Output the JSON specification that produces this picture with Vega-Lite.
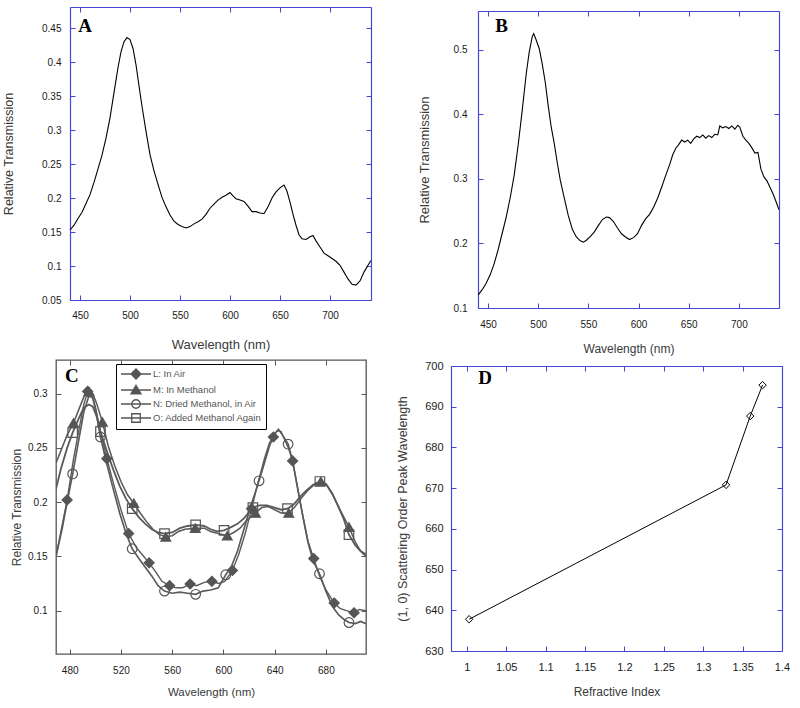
{
  "$schema": "https://vega.github.io/schema/vega-lite/v6.json",
  "padding": {"left": 2, "top": 6, "right": 0, "bottom": 0},
  "background": "white",
  "spacing": 4,
  "datasets": {
    "a": [
      {"w":440,"t":0.153},{"w":444,"t":0.160},{"w":448,"t":0.170},{"w":452,"t":0.179},{"w":456,"t":0.192},{"w":460,"t":0.205},{"w":464,"t":0.223},{"w":468,"t":0.243},{"w":472,"t":0.263},{"w":476,"t":0.288},{"w":480,"t":0.318},{"w":484,"t":0.355},{"w":488,"t":0.392},{"w":491,"t":0.415},{"w":494,"t":0.430},{"w":497,"t":0.436},{"w":500,"t":0.433},{"w":503,"t":0.420},{"w":506,"t":0.396},{"w":509,"t":0.365},{"w":512,"t":0.335},{"w":516,"t":0.298},{"w":520,"t":0.264},{"w":524,"t":0.240},{"w":528,"t":0.220},{"w":532,"t":0.201},{"w":536,"t":0.187},{"w":540,"t":0.175},{"w":544,"t":0.166},{"w":548,"t":0.161},{"w":552,"t":0.158},{"w":556,"t":0.156},{"w":560,"t":0.158},{"w":564,"t":0.162},{"w":568,"t":0.165},{"w":572,"t":0.169},{"w":576,"t":0.176},{"w":580,"t":0.185},{"w":584,"t":0.191},{"w":588,"t":0.197},{"w":592,"t":0.201},{"w":596,"t":0.204},{"w":600,"t":0.208},{"w":603,"t":0.203},{"w":606,"t":0.199},{"w":610,"t":0.197},{"w":614,"t":0.195},{"w":618,"t":0.188},{"w":622,"t":0.180},{"w":626,"t":0.180},{"w":630,"t":0.178},{"w":634,"t":0.177},{"w":638,"t":0.187},{"w":642,"t":0.200},{"w":646,"t":0.209},{"w":650,"t":0.215},{"w":654,"t":0.219},{"w":657,"t":0.210},{"w":660,"t":0.194},{"w":663,"t":0.176},{"w":666,"t":0.160},{"w":669,"t":0.146},{"w":672,"t":0.140},{"w":676,"t":0.139},{"w":680,"t":0.143},{"w":683,"t":0.145},{"w":686,"t":0.137},{"w":690,"t":0.128},{"w":694,"t":0.119},{"w":698,"t":0.115},{"w":702,"t":0.111},{"w":706,"t":0.107},{"w":710,"t":0.101},{"w":714,"t":0.091},{"w":718,"t":0.081},{"w":722,"t":0.073},{"w":726,"t":0.072},{"w":730,"t":0.078},{"w":734,"t":0.091},{"w":738,"t":0.101},{"w":741,"t":0.108}
    ],
    "b": [
      {"w":440,"t":0.120},{"w":444,"t":0.128},{"w":448,"t":0.138},{"w":452,"t":0.151},{"w":456,"t":0.168},{"w":460,"t":0.190},{"w":464,"t":0.215},{"w":468,"t":0.240},{"w":472,"t":0.270},{"w":476,"t":0.305},{"w":480,"t":0.352},{"w":484,"t":0.405},{"w":488,"t":0.462},{"w":491,"t":0.496},{"w":494,"t":0.520},{"w":495.5,"t":0.525},{"w":498,"t":0.515},{"w":501,"t":0.502},{"w":504,"t":0.478},{"w":507,"t":0.450},{"w":510,"t":0.413},{"w":513,"t":0.380},{"w":516,"t":0.355},{"w":519,"t":0.325},{"w":522,"t":0.298},{"w":526,"t":0.270},{"w":530,"t":0.243},{"w":534,"t":0.222},{"w":538,"t":0.210},{"w":542,"t":0.204},{"w":545,"t":0.202},{"w":548,"t":0.205},{"w":552,"t":0.211},{"w":556,"t":0.218},{"w":560,"t":0.228},{"w":564,"t":0.237},{"w":568,"t":0.241},{"w":571,"t":0.240},{"w":575,"t":0.234},{"w":579,"t":0.224},{"w":583,"t":0.215},{"w":587,"t":0.210},{"w":591,"t":0.206},{"w":595,"t":0.209},{"w":599,"t":0.215},{"w":603,"t":0.228},{"w":607,"t":0.238},{"w":611,"t":0.245},{"w":615,"t":0.256},{"w":619,"t":0.270},{"w":623,"t":0.287},{"w":627,"t":0.305},{"w":631,"t":0.322},{"w":634,"t":0.337},{"w":637,"t":0.347},{"w":640,"t":0.353},{"w":643,"t":0.360},{"w":646,"t":0.357},{"w":649,"t":0.360},{"w":652,"t":0.355},{"w":655,"t":0.362},{"w":658,"t":0.366},{"w":661,"t":0.364},{"w":664,"t":0.368},{"w":667,"t":0.363},{"w":670,"t":0.367},{"w":673,"t":0.364},{"w":676,"t":0.369},{"w":679,"t":0.368},{"w":681,"t":0.382},{"w":684,"t":0.379},{"w":687,"t":0.381},{"w":690,"t":0.378},{"w":693,"t":0.382},{"w":696,"t":0.377},{"w":699,"t":0.383},{"w":701,"t":0.380},{"w":704,"t":0.366},{"w":707,"t":0.360},{"w":710,"t":0.355},{"w":713,"t":0.348},{"w":716,"t":0.340},{"w":719,"t":0.341},{"w":722,"t":0.315},{"w":725,"t":0.303},{"w":728,"t":0.297},{"w":731,"t":0.287},{"w":734,"t":0.277},{"w":737,"t":0.265},{"w":740,"t":0.252}
    ],
    "c": [
      {"s":"L: In Air","w":469.3,"t":0.150,"mk":0},{"s":"L: In Air","w":473,"t":0.172,"mk":0},{"s":"L: In Air","w":478,"t":0.202,"mk":1},{"s":"L: In Air","w":483,"t":0.240,"mk":0},{"s":"L: In Air","w":488,"t":0.272,"mk":0},{"s":"L: In Air","w":491,"t":0.290,"mk":0},{"s":"L: In Air","w":494,"t":0.302,"mk":1},{"s":"L: In Air","w":497,"t":0.300,"mk":0},{"s":"L: In Air","w":500,"t":0.288,"mk":0},{"s":"L: In Air","w":504,"t":0.265,"mk":0},{"s":"L: In Air","w":509,"t":0.240,"mk":1},{"s":"L: In Air","w":514,"t":0.218,"mk":0},{"s":"L: In Air","w":520,"t":0.193,"mk":0},{"s":"L: In Air","w":526,"t":0.171,"mk":1},{"s":"L: In Air","w":532,"t":0.158,"mk":0},{"s":"L: In Air","w":537,"t":0.151,"mk":0},{"s":"L: In Air","w":542,"t":0.144,"mk":1},{"s":"L: In Air","w":547,"t":0.136,"mk":0},{"s":"L: In Air","w":552,"t":0.127,"mk":0},{"s":"L: In Air","w":558,"t":0.123,"mk":1},{"s":"L: In Air","w":563,"t":0.121,"mk":0},{"s":"L: In Air","w":568,"t":0.121,"mk":0},{"s":"L: In Air","w":574,"t":0.1245,"mk":1},{"s":"L: In Air","w":579,"t":0.123,"mk":0},{"s":"L: In Air","w":585,"t":0.126,"mk":0},{"s":"L: In Air","w":591,"t":0.127,"mk":1},{"s":"L: In Air","w":596,"t":0.125,"mk":0},{"s":"L: In Air","w":601,"t":0.127,"mk":0},{"s":"L: In Air","w":607,"t":0.137,"mk":1},{"s":"L: In Air","w":612,"t":0.152,"mk":0},{"s":"L: In Air","w":617,"t":0.171,"mk":0},{"s":"L: In Air","w":622,"t":0.194,"mk":1},{"s":"L: In Air","w":627,"t":0.218,"mk":0},{"s":"L: In Air","w":632,"t":0.240,"mk":0},{"s":"L: In Air","w":636,"t":0.255,"mk":0},{"s":"L: In Air","w":639,"t":0.260,"mk":1},{"s":"L: In Air","w":642,"t":0.266,"mk":0},{"s":"L: In Air","w":645,"t":0.265,"mk":0},{"s":"L: In Air","w":648,"t":0.257,"mk":0},{"s":"L: In Air","w":651,"t":0.249,"mk":0},{"s":"L: In Air","w":654,"t":0.238,"mk":1},{"s":"L: In Air","w":658,"t":0.213,"mk":0},{"s":"L: In Air","w":662,"t":0.187,"mk":0},{"s":"L: In Air","w":666,"t":0.164,"mk":0},{"s":"L: In Air","w":670.5,"t":0.148,"mk":1},{"s":"L: In Air","w":675,"t":0.132,"mk":0},{"s":"L: In Air","w":680,"t":0.119,"mk":0},{"s":"L: In Air","w":686.5,"t":0.107,"mk":1},{"s":"L: In Air","w":691,"t":0.102,"mk":0},{"s":"L: In Air","w":696,"t":0.100,"mk":0},{"s":"L: In Air","w":702,"t":0.098,"mk":1},{"s":"L: In Air","w":706,"t":0.101,"mk":0},{"s":"L: In Air","w":711.3,"t":0.100,"mk":0},
      {"s":"M: In Methanol","w":469.3,"t":0.236,"mk":0},{"s":"M: In Methanol","w":474,"t":0.250,"mk":0},{"s":"M: In Methanol","w":478,"t":0.262,"mk":0},{"s":"M: In Methanol","w":483,"t":0.273,"mk":1},{"s":"M: In Methanol","w":488,"t":0.288,"mk":0},{"s":"M: In Methanol","w":492,"t":0.300,"mk":0},{"s":"M: In Methanol","w":495,"t":0.302,"mk":1},{"s":"M: In Methanol","w":498,"t":0.300,"mk":0},{"s":"M: In Methanol","w":501,"t":0.291,"mk":0},{"s":"M: In Methanol","w":505.5,"t":0.274,"mk":1},{"s":"M: In Methanol","w":510,"t":0.252,"mk":0},{"s":"M: In Methanol","w":515,"t":0.234,"mk":0},{"s":"M: In Methanol","w":520,"t":0.219,"mk":0},{"s":"M: In Methanol","w":525,"t":0.207,"mk":0},{"s":"M: In Methanol","w":530,"t":0.199,"mk":1},{"s":"M: In Methanol","w":535,"t":0.190,"mk":0},{"s":"M: In Methanol","w":540,"t":0.182,"mk":0},{"s":"M: In Methanol","w":545,"t":0.175,"mk":0},{"s":"M: In Methanol","w":550,"t":0.170,"mk":0},{"s":"M: In Methanol","w":555,"t":0.168,"mk":1},{"s":"M: In Methanol","w":560,"t":0.169,"mk":0},{"s":"M: In Methanol","w":565,"t":0.173,"mk":0},{"s":"M: In Methanol","w":570,"t":0.175,"mk":0},{"s":"M: In Methanol","w":578,"t":0.176,"mk":1},{"s":"M: In Methanol","w":585,"t":0.176,"mk":0},{"s":"M: In Methanol","w":590,"t":0.173,"mk":0},{"s":"M: In Methanol","w":596,"t":0.171,"mk":0},{"s":"M: In Methanol","w":603,"t":0.169,"mk":1},{"s":"M: In Methanol","w":608,"t":0.172,"mk":0},{"s":"M: In Methanol","w":613,"t":0.176,"mk":0},{"s":"M: In Methanol","w":618,"t":0.183,"mk":0},{"s":"M: In Methanol","w":625,"t":0.190,"mk":1},{"s":"M: In Methanol","w":630,"t":0.195,"mk":0},{"s":"M: In Methanol","w":635,"t":0.196,"mk":0},{"s":"M: In Methanol","w":640,"t":0.193,"mk":0},{"s":"M: In Methanol","w":645,"t":0.190,"mk":0},{"s":"M: In Methanol","w":651,"t":0.190,"mk":1},{"s":"M: In Methanol","w":656,"t":0.196,"mk":0},{"s":"M: In Methanol","w":661,"t":0.204,"mk":0},{"s":"M: In Methanol","w":666,"t":0.211,"mk":0},{"s":"M: In Methanol","w":671,"t":0.216,"mk":0},{"s":"M: In Methanol","w":676,"t":0.219,"mk":1},{"s":"M: In Methanol","w":681,"t":0.215,"mk":0},{"s":"M: In Methanol","w":686,"t":0.205,"mk":0},{"s":"M: In Methanol","w":691,"t":0.193,"mk":0},{"s":"M: In Methanol","w":698,"t":0.177,"mk":1},{"s":"M: In Methanol","w":703,"t":0.163,"mk":0},{"s":"M: In Methanol","w":707,"t":0.155,"mk":0},{"s":"M: In Methanol","w":711.3,"t":0.150,"mk":0},
      {"s":"N: Dried Methanol, in Air","w":469.3,"t":0.150,"mk":0},{"s":"N: Dried Methanol, in Air","w":474,"t":0.175,"mk":0},{"s":"N: Dried Methanol, in Air","w":478,"t":0.200,"mk":0},{"s":"N: Dried Methanol, in Air","w":482.3,"t":0.226,"mk":1},{"s":"N: Dried Methanol, in Air","w":487,"t":0.257,"mk":0},{"s":"N: Dried Methanol, in Air","w":491,"t":0.283,"mk":0},{"s":"N: Dried Methanol, in Air","w":495,"t":0.298,"mk":0},{"s":"N: Dried Methanol, in Air","w":498,"t":0.296,"mk":0},{"s":"N: Dried Methanol, in Air","w":501,"t":0.281,"mk":0},{"s":"N: Dried Methanol, in Air","w":504,"t":0.260,"mk":1},{"s":"N: Dried Methanol, in Air","w":509,"t":0.235,"mk":0},{"s":"N: Dried Methanol, in Air","w":514,"t":0.212,"mk":0},{"s":"N: Dried Methanol, in Air","w":519,"t":0.190,"mk":0},{"s":"N: Dried Methanol, in Air","w":524,"t":0.171,"mk":0},{"s":"N: Dried Methanol, in Air","w":528.8,"t":0.157,"mk":1},{"s":"N: Dried Methanol, in Air","w":534,"t":0.148,"mk":0},{"s":"N: Dried Methanol, in Air","w":539,"t":0.140,"mk":0},{"s":"N: Dried Methanol, in Air","w":544,"t":0.132,"mk":0},{"s":"N: Dried Methanol, in Air","w":549,"t":0.123,"mk":0},{"s":"N: Dried Methanol, in Air","w":554,"t":0.118,"mk":1},{"s":"N: Dried Methanol, in Air","w":560,"t":0.116,"mk":0},{"s":"N: Dried Methanol, in Air","w":566,"t":0.117,"mk":0},{"s":"N: Dried Methanol, in Air","w":572,"t":0.116,"mk":0},{"s":"N: Dried Methanol, in Air","w":578.3,"t":0.115,"mk":1},{"s":"N: Dried Methanol, in Air","w":584,"t":0.118,"mk":0},{"s":"N: Dried Methanol, in Air","w":590,"t":0.119,"mk":0},{"s":"N: Dried Methanol, in Air","w":596,"t":0.121,"mk":0},{"s":"N: Dried Methanol, in Air","w":601.8,"t":0.133,"mk":1},{"s":"N: Dried Methanol, in Air","w":606,"t":0.140,"mk":0},{"s":"N: Dried Methanol, in Air","w":611,"t":0.155,"mk":0},{"s":"N: Dried Methanol, in Air","w":616,"t":0.175,"mk":0},{"s":"N: Dried Methanol, in Air","w":621,"t":0.195,"mk":0},{"s":"N: Dried Methanol, in Air","w":627.8,"t":0.2196,"mk":1},{"s":"N: Dried Methanol, in Air","w":632,"t":0.236,"mk":0},{"s":"N: Dried Methanol, in Air","w":636,"t":0.252,"mk":0},{"s":"N: Dried Methanol, in Air","w":640,"t":0.263,"mk":0},{"s":"N: Dried Methanol, in Air","w":643,"t":0.267,"mk":0},{"s":"N: Dried Methanol, in Air","w":646,"t":0.262,"mk":0},{"s":"N: Dried Methanol, in Air","w":650.5,"t":0.2534,"mk":1},{"s":"N: Dried Methanol, in Air","w":654,"t":0.238,"mk":0},{"s":"N: Dried Methanol, in Air","w":658,"t":0.212,"mk":0},{"s":"N: Dried Methanol, in Air","w":662,"t":0.187,"mk":0},{"s":"N: Dried Methanol, in Air","w":666,"t":0.163,"mk":0},{"s":"N: Dried Methanol, in Air","w":670,"t":0.146,"mk":0},{"s":"N: Dried Methanol, in Air","w":675,"t":0.134,"mk":1},{"s":"N: Dried Methanol, in Air","w":680,"t":0.118,"mk":0},{"s":"N: Dried Methanol, in Air","w":685,"t":0.104,"mk":0},{"s":"N: Dried Methanol, in Air","w":690,"t":0.096,"mk":0},{"s":"N: Dried Methanol, in Air","w":694,"t":0.092,"mk":0},{"s":"N: Dried Methanol, in Air","w":698,"t":0.089,"mk":1},{"s":"N: Dried Methanol, in Air","w":703,"t":0.088,"mk":0},{"s":"N: Dried Methanol, in Air","w":707,"t":0.090,"mk":0},{"s":"N: Dried Methanol, in Air","w":711.3,"t":0.088,"mk":0},
      {"s":"O: Added Methanol Again","w":469.3,"t":0.212,"mk":0},{"s":"O: Added Methanol Again","w":473,"t":0.230,"mk":0},{"s":"O: Added Methanol Again","w":478,"t":0.250,"mk":0},{"s":"O: Added Methanol Again","w":482.3,"t":0.264,"mk":1},{"s":"O: Added Methanol Again","w":487,"t":0.277,"mk":0},{"s":"O: Added Methanol Again","w":491,"t":0.287,"mk":0},{"s":"O: Added Methanol Again","w":495,"t":0.290,"mk":0},{"s":"O: Added Methanol Again","w":498,"t":0.288,"mk":0},{"s":"O: Added Methanol Again","w":501,"t":0.279,"mk":0},{"s":"O: Added Methanol Again","w":504,"t":0.265,"mk":1},{"s":"O: Added Methanol Again","w":509,"t":0.247,"mk":0},{"s":"O: Added Methanol Again","w":514,"t":0.230,"mk":0},{"s":"O: Added Methanol Again","w":519,"t":0.215,"mk":0},{"s":"O: Added Methanol Again","w":524,"t":0.203,"mk":0},{"s":"O: Added Methanol Again","w":528.8,"t":0.194,"mk":1},{"s":"O: Added Methanol Again","w":534,"t":0.186,"mk":0},{"s":"O: Added Methanol Again","w":539,"t":0.180,"mk":0},{"s":"O: Added Methanol Again","w":544,"t":0.175,"mk":0},{"s":"O: Added Methanol Again","w":549,"t":0.172,"mk":0},{"s":"O: Added Methanol Again","w":554,"t":0.171,"mk":1},{"s":"O: Added Methanol Again","w":560,"t":0.172,"mk":0},{"s":"O: Added Methanol Again","w":566,"t":0.176,"mk":0},{"s":"O: Added Methanol Again","w":572,"t":0.178,"mk":0},{"s":"O: Added Methanol Again","w":578.3,"t":0.179,"mk":1},{"s":"O: Added Methanol Again","w":585,"t":0.178,"mk":0},{"s":"O: Added Methanol Again","w":590,"t":0.175,"mk":0},{"s":"O: Added Methanol Again","w":595,"t":0.173,"mk":0},{"s":"O: Added Methanol Again","w":600.5,"t":0.174,"mk":1},{"s":"O: Added Methanol Again","w":606,"t":0.177,"mk":0},{"s":"O: Added Methanol Again","w":611,"t":0.180,"mk":0},{"s":"O: Added Methanol Again","w":616,"t":0.185,"mk":0},{"s":"O: Added Methanol Again","w":623,"t":0.195,"mk":1},{"s":"O: Added Methanol Again","w":628,"t":0.197,"mk":0},{"s":"O: Added Methanol Again","w":634,"t":0.197,"mk":0},{"s":"O: Added Methanol Again","w":640,"t":0.195,"mk":0},{"s":"O: Added Methanol Again","w":645,"t":0.193,"mk":0},{"s":"O: Added Methanol Again","w":650,"t":0.194,"mk":1},{"s":"O: Added Methanol Again","w":655,"t":0.198,"mk":0},{"s":"O: Added Methanol Again","w":660,"t":0.205,"mk":0},{"s":"O: Added Methanol Again","w":665,"t":0.211,"mk":0},{"s":"O: Added Methanol Again","w":670,"t":0.216,"mk":0},{"s":"O: Added Methanol Again","w":675.3,"t":0.219,"mk":1},{"s":"O: Added Methanol Again","w":680,"t":0.217,"mk":0},{"s":"O: Added Methanol Again","w":685,"t":0.208,"mk":0},{"s":"O: Added Methanol Again","w":690,"t":0.195,"mk":0},{"s":"O: Added Methanol Again","w":694,"t":0.184,"mk":0},{"s":"O: Added Methanol Again","w":698,"t":0.170,"mk":1},{"s":"O: Added Methanol Again","w":703,"t":0.160,"mk":0},{"s":"O: Added Methanol Again","w":707,"t":0.155,"mk":0},{"s":"O: Added Methanol Again","w":711.3,"t":0.152,"mk":0}
    ],
    "d": [
      {"n":1.003,"p":637.8},{"n":1.329,"p":670.8},{"n":1.3597,"p":687.7},{"n":1.3753,"p":695.3}
    ]
  },
  "vconcat": [
    {
      "hconcat": [
        {
          "width": 315, "height": 293,
          "view": {"stroke": null},
          "resolve": {"axis": {"x": "independent", "y": "independent"}},
          "layer": [
            {
              "data": {"name": "a"},
              "mark": {"type": "line", "color": "black", "strokeWidth": 1.1, "clip": true},
              "encoding": {
                "x": {"field": "w", "type": "quantitative", "scale": {"domain": [440, 741], "nice": false, "zero": false, "range": [14, 315]},
                      "axis": {"values": [450,500,550,600,650,700], "title": "Wavelength (nm)", "domain": true, "domainColor": "#4646d8", "domainWidth": 1.2, "tickColor": "#4646d8", "tickSize": -5, "labelPadding": 15, "titlePadding": 18, "titleFontSize": 13}},
                "y": {"field": "t", "type": "quantitative", "scale": {"domain": [0.05, 0.481], "nice": false, "zero": false},
                      "axis": {"offset": -14, "values": [0.05,0.1,0.15,0.2,0.25,0.3,0.35,0.4,0.45], "format": ".2~f", "title": "Relative Transmission", "domain": true, "domainColor": "#4646d8", "domainWidth": 1.2, "tickColor": "#4646d8", "tickSize": -5, "labelPadding": 14, "titlePadding": 26, "titleFontSize": 12.5}}
              }
            },
            {
              "data": {"values": [{"x": 455, "y": 0.444, "label": "A"}]},
              "mark": {"type": "text", "font": "Liberation Serif", "fontWeight": "bold", "fontSize": 19, "align": "center", "baseline": "alphabetic", "color": "black"},
              "encoding": {
                "x": {"field": "x", "type": "quantitative", "scale": {"domain": [440, 741], "nice": false, "zero": false, "range": [14, 315]},
                      "axis": {"orient": "top", "values": [450,500,550,600,650,700], "labels": false, "title": null, "domain": true, "domainColor": "#4646d8", "domainWidth": 1.2, "tickColor": "#4646d8", "tickSize": -5}},
                "y": {"field": "y", "type": "quantitative", "scale": {"domain": [0.05, 0.481], "nice": false, "zero": false},
                      "axis": {"orient": "right", "values": [0.05,0.1,0.15,0.2,0.25,0.3,0.35,0.4,0.45], "labels": false, "title": null, "domain": true, "domainColor": "#4646d8", "domainWidth": 1.2, "tickColor": "#4646d8", "tickSize": -5}},
                "text": {"field": "label"}
              }
            }
          ]
        },
        {
          "width": 301, "height": 301,
          "view": {"stroke": null},
          "resolve": {"axis": {"x": "independent", "y": "independent"}},
          "layer": [
            {
              "data": {"name": "b"},
              "mark": {"type": "line", "color": "black", "strokeWidth": 1.1, "clip": true},
              "encoding": {
                "x": {"field": "w", "type": "quantitative", "scale": {"domain": [440, 740], "nice": false, "zero": false},
                      "axis": {"values": [450,500,550,600,650,700], "title": "Wavelength (nm)", "domain": true, "domainColor": "#4646d8", "domainWidth": 1.2, "tickColor": "#4646d8", "tickSize": -5, "labelPadding": 16, "titlePadding": 14, "titleFontSize": 12}},
                "y": {"field": "t", "type": "quantitative", "scale": {"domain": [0.1, 0.56], "nice": false, "zero": false, "range": [301, 4]},
                      "axis": {"values": [0.1,0.2,0.3,0.4,0.5], "format": ".1f", "title": "Relative Transmission", "domain": true, "domainColor": "#4646d8", "domainWidth": 1.2, "tickColor": "#4646d8", "tickSize": -5, "labelPadding": 16, "titlePadding": 22, "titleFontSize": 13}}
              }
            },
            {
              "data": {"values": [{"x": 463.5, "y": 0.528, "label": "B"}]},
              "mark": {"type": "text", "font": "Liberation Serif", "fontWeight": "bold", "fontSize": 19, "align": "center", "baseline": "alphabetic", "color": "black"},
              "encoding": {
                "x": {"field": "x", "type": "quantitative", "scale": {"domain": [440, 740], "nice": false, "zero": false},
                      "axis": {"orient": "top", "offset": -4, "values": [450,500,550,600,650,700], "labels": false, "title": null, "domain": true, "domainColor": "#4646d8", "domainWidth": 1.2, "tickColor": "#4646d8", "tickSize": -5}},
                "y": {"field": "y", "type": "quantitative", "scale": {"domain": [0.1, 0.56], "nice": false, "zero": false, "range": [301, 4]},
                      "axis": {"orient": "right", "values": [0.1,0.2,0.3,0.4,0.5], "labels": false, "title": null, "domain": true, "domainColor": "#4646d8", "domainWidth": 1.2, "tickColor": "#4646d8", "tickSize": -5}},
                "text": {"field": "label"}
              }
            }
          ]
        }
      ],
      "spacing": 46
    },
    {
      "hconcat": [
        {
          "width": 310, "height": 294,
          "view": {"stroke": "#555555", "strokeWidth": 1.3},
          "resolve": {"axis": {"x": "independent", "y": "independent"}, "scale": {"shape": "independent", "fill": "independent", "stroke": "independent"}},
          "layer": [
            {
              "data": {"name": "c"},
              "mark": {"type": "line", "color": "#5a5a5a", "clip": true},
              "encoding": {
                "x": {"field": "w", "type": "quantitative", "scale": {"domain": [469.3, 711.3], "nice": false, "zero": false},
                      "axis": {"values": [480,520,560,600,640,680], "title": "Wavelength (nm)", "domain": false, "tickColor": "#555555", "tickSize": -5, "labelPadding": 16, "titlePadding": 11, "titleFontSize": 11.5}},
                "y": {"field": "t", "type": "quantitative", "scale": {"domain": [0.06, 0.331], "nice": false, "zero": false},
                      "axis": {"values": [0.1,0.15,0.2,0.25,0.3], "format": ".2~f", "title": "Relative Transmission", "domain": false, "tickColor": "#555555", "tickSize": -5, "labelPadding": 14, "titlePadding": 4, "titleFontSize": 12}},
                "strokeWidth": {"field": "s", "type": "nominal", "scale": {"domain": ["L: In Air","M: In Methanol","N: Dried Methanol, in Air","O: Added Methanol Again"], "range": [1.4, 1.8, 1.2, 2.6]}, "legend": null}
              }
            },
            {
              "data": {"name": "c"},
              "transform": [{"filter": "datum.mk == 1"}],
              "mark": {"type": "point", "filled": true, "stroke": "#555555", "strokeWidth": 1.2, "opacity": 1, "clip": true},
              "encoding": {
                "x": {"field": "w", "type": "quantitative", "axis": null},
                "y": {"field": "t", "type": "quantitative", "axis": null},
                "shape": {"field": "s", "type": "nominal", "scale": {"domain": ["L: In Air","M: In Methanol","N: Dried Methanol, in Air","O: Added Methanol Again"], "range": ["diamond","triangle-up","circle","square"]}, "legend": null},
                "fill": {"field": "s", "type": "nominal", "scale": {"domain": ["L: In Air","M: In Methanol","N: Dried Methanol, in Air","O: Added Methanol Again"], "range": ["#555555","#555555","transparent","transparent"]}, "legend": null},
                "size": {"field": "s", "type": "nominal", "scale": {"domain": ["L: In Air","M: In Methanol","N: Dried Methanol, in Air","O: Added Methanol Again"], "range": [100, 90, 75, 80]}, "legend": null}
              }
            },
            {
              "data": {"name": "c"},
              "transform": [{"filter": "datum.mk == 2"}],
              "mark": {"type": "point", "filled": true, "strokeWidth": 1.3, "opacity": 1},
              "encoding": {
                "x": {"field": "w", "type": "quantitative", "axis": null},
                "y": {"field": "t", "type": "quantitative", "axis": null},
                "shape": {"field": "s", "type": "nominal", "scale": {"domain": ["L: In Air","M: In Methanol","N: Dried Methanol, in Air","O: Added Methanol Again"], "range": ["M-3,0H3M-1,0L0,-1L1,0L0,1Z","M-3,0H3M-1,0.75L0,-0.95L1,0.75Z","M-3,0H3M0.85,0A0.85,0.85,0,1,1,-0.85,0A0.85,0.85,0,1,1,0.85,0Z","M-3,0H3M-0.85,-0.85H0.85V0.85H-0.85Z"]},
                          "legend": {"orient": "none", "legendX": 60, "legendY": 4, "title": null, "symbolSize": 100, "symbolOffset": 10, "labelOffset": 11, "labelFontSize": 9.5, "labelColor": "#555555", "labelFont": "Liberation Sans", "rowPadding": 0, "padding": 4, "fillColor": "white", "strokeColor": "black", "symbolStrokeWidth": 1.3,
                                     "encode": {"legend": {"update": {"strokeWidth": {"value": 2}}}}}},
                "fill": {"field": "s", "type": "nominal", "scale": {"domain": ["L: In Air","M: In Methanol","N: Dried Methanol, in Air","O: Added Methanol Again"], "range": ["#555555","#555555","transparent","transparent"]},
                         "legend": {"orient": "none", "legendX": 60, "legendY": 4, "title": null}},
                "stroke": {"field": "s", "type": "nominal", "scale": {"domain": ["L: In Air","M: In Methanol","N: Dried Methanol, in Air","O: Added Methanol Again"], "range": ["#555555","#555555","#555555","#555555"]},
                         "legend": {"orient": "none", "legendX": 60, "legendY": 4, "title": null}}
              }
            },
            {
              "data": {"values": [{"x": 481.6, "y": 0.3103, "label": "C"}]},
              "mark": {"type": "text", "font": "Liberation Serif", "fontWeight": "bold", "fontSize": 19, "align": "center", "baseline": "alphabetic", "color": "black"},
              "encoding": {
                "x": {"field": "x", "type": "quantitative", "scale": {"domain": [469.3, 711.3], "nice": false, "zero": false},
                      "axis": {"orient": "top", "values": [480,520,560,600,640,680], "labels": false, "title": null, "domain": false, "tickColor": "#555555", "tickSize": -5}},
                "y": {"field": "y", "type": "quantitative", "scale": {"domain": [0.06, 0.331], "nice": false, "zero": false},
                      "axis": {"orient": "right", "values": [0.1,0.15,0.2,0.25,0.3], "labels": false, "title": null, "domain": false, "tickColor": "#555555", "tickSize": -5}},
                "text": {"field": "label"}
              }
            }
          ]
        },
        {
          "width": 331, "height": 291,
          "view": {"stroke": null},
          "resolve": {"axis": {"x": "independent", "y": "independent"}},
          "layer": [
            {
              "data": {"name": "d"},
              "mark": {"type": "line", "color": "black", "strokeWidth": 1, "point": {"shape": "diamond", "filled": false, "size": 55, "color": "black", "strokeWidth": 1}},
              "encoding": {
                "x": {"field": "n", "type": "quantitative", "scale": {"domain": [0.98, 1.4], "nice": false, "zero": false},
                      "axis": {"values": [1,1.05,1.1,1.15,1.2,1.25,1.3,1.35,1.4], "format": ".2~f", "title": "Refractive Index", "domain": true, "domainColor": "#4646d8", "domainWidth": 1.2, "tickColor": "#4646d8", "tickSize": -5, "labelPadding": 15, "titlePadding": 14, "titleFontSize": 12, "labelFontSize": 11}},
                "y": {"field": "p", "type": "quantitative", "scale": {"domain": [630, 700], "nice": false, "zero": false, "range": [291, 6]},
                      "axis": {"values": [630,640,650,660,670,680,690,700], "title": "(1, 0) Scattering Order Peak Wavelength", "domain": true, "domainColor": "#4646d8", "domainWidth": 1.2, "tickColor": "#4646d8", "tickSize": -5, "labelPadding": 13, "titlePadding": 15, "titleFontSize": 12.5, "labelFontSize": 11}}
              }
            },
            {
              "data": {"values": [{"x": 1.0232, "y": 695.7, "label": "D"}]},
              "mark": {"type": "text", "font": "Liberation Serif", "fontWeight": "bold", "fontSize": 19, "align": "center", "baseline": "alphabetic", "color": "black"},
              "encoding": {
                "x": {"field": "x", "type": "quantitative", "scale": {"domain": [0.98, 1.4], "nice": false, "zero": false},
                      "axis": {"orient": "top", "offset": -6, "values": [1,1.05,1.1,1.15,1.2,1.25,1.3,1.35,1.4], "labels": false, "title": null, "domain": true, "domainColor": "#4646d8", "domainWidth": 1.2, "tickColor": "#4646d8", "tickSize": -5}},
                "y": {"field": "y", "type": "quantitative", "scale": {"domain": [630, 700], "nice": false, "zero": false, "range": [291, 6]},
                      "axis": {"orient": "right", "values": [630,640,650,660,670,680,690,700], "labels": false, "title": null, "domain": true, "domainColor": "#4646d8", "domainWidth": 1.2, "tickColor": "#4646d8", "tickSize": -5}},
                "text": {"field": "label"}
              }
            }
          ]
        }
      ],
      "spacing": 28
    }
  ],
  "config": {
    "axis": {"grid": false, "labelFont": "Liberation Sans", "titleFont": "Liberation Sans", "labelFontSize": 10, "labelColor": "#1a1a1a", "titleColor": "#3a3a3a", "titleFontWeight": "normal", "labelFlush": false, "labelOverlap": false, "labelBound": false, "tickWidth": 1},
    "legend": {"labelFont": "Liberation Sans"}
  }
}
